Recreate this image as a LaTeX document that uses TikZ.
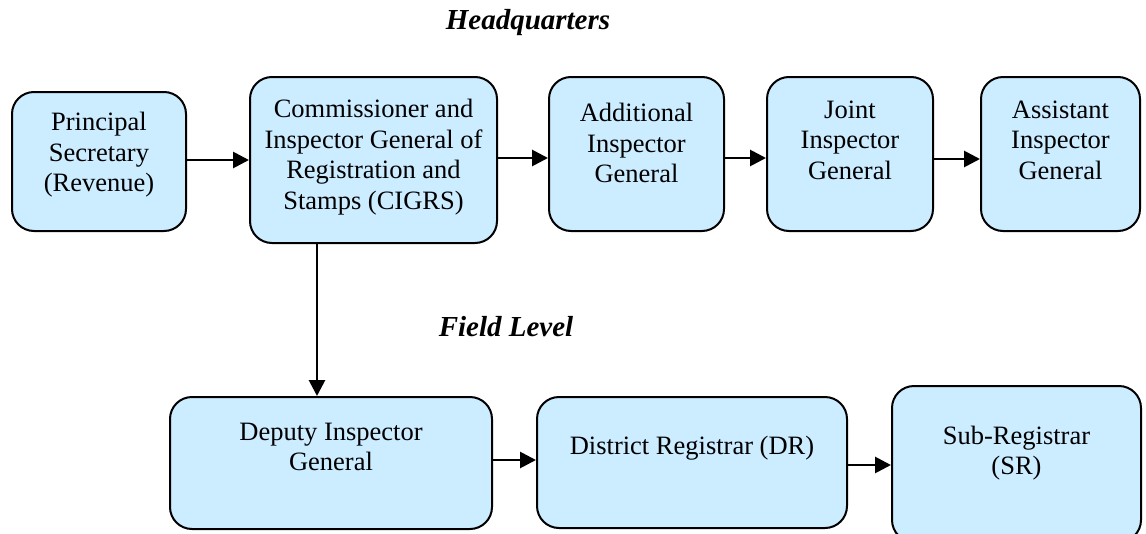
\documentclass[tikz,border=0pt]{standalone}
\usepackage{fontspec}
\setmainfont{Liberation Serif}
\usetikzlibrary{arrows.meta}
\definecolor{boxfill}{HTML}{CCECFF}
\begin{document}
\begin{tikzpicture}[x=1pt,y=-1pt,
  box/.style={draw=black, line width=2pt, fill=boxfill, rounded corners=22pt, inner sep=0pt},
  txt/.style={align=center, font=\fontsize{26.5}{30.5}\selectfont, inner sep=0pt},
  ttl/.style={font=\fontsize{29}{34}\selectfont\bfseries\itshape, inner sep=0pt},
  arr/.style={line width=2.8pt, -{Triangle[length=16pt,width=16pt]}}]
\useasboundingbox (0,0) rectangle (1146,533);
\clip (0,0) rectangle (1146,533);
% boxes
\node[box, minimum width=174pt, minimum height=139pt] (b1) at (99,161.5) {};
\node[box, minimum width=247pt, minimum height=166pt] (b2) at (373.5,160) {};
\node[box, minimum width=175pt, minimum height=154pt] (b3) at (636.5,154) {};
\node[box, minimum width=166pt, minimum height=154pt] (b4) at (850,154) {};
\node[box, minimum width=159pt, minimum height=154pt] (b5) at (1060.5,154) {};
\node[box, minimum width=322pt, minimum height=132pt] (b6) at (331,463) {};
\node[box, minimum width=310pt, minimum height=131pt] (b7) at (692,462.5) {};
\node[box, minimum width=249pt, minimum height=156pt] (b8) at (1016.5,464) {};
% texts
\node[txt] (t1) at (99,155) {Principal\\Secretary\\(Revenue)};
\node[txt] (t2) at (373.5,157) {Commissioner and\\Inspector General of\\Registration and\\Stamps (CIGRS)};
\node[txt] (t3) at (636.5,143) {Additional\\Inspector\\General};
\node[txt] (t4) at (850,140) {Joint\\Inspector\\General};
\node[txt] (t5) at (1060.5,140) {Assistant\\Inspector\\General};
\node[txt] (t6) at (331,447) {Deputy Inspector\\General};
\node[txt] (t7) at (692,448) {District Registrar (DR)};
\node[txt] (t8) at (1016.5,453) {Sub-Registrar\\(SR)};
% titles
\node[ttl] (hq) at (528,23) {Headquarters};
\node[ttl] (fl) at (506,327) {Field Level};
% arrows
\draw[arr] (b1.east |- 0,160) -- (b2.west |- 0,160);
\draw[arr] (b2.east |- 0,158) -- (b3.west |- 0,158);
\draw[arr] (b3.east |- 0,158) -- (b4.west |- 0,158);
\draw[arr] (b4.east |- 0,159) -- (b5.west |- 0,159);
\draw[arr] (b2.south -| 317,0) -- (b6.north -| 317,0);
\draw[arr] (b6.east |- 0,460) -- (b7.west |- 0,460);
\draw[arr] (b7.east |- 0,465) -- (b8.west |- 0,465);
\end{tikzpicture}
\end{document}
